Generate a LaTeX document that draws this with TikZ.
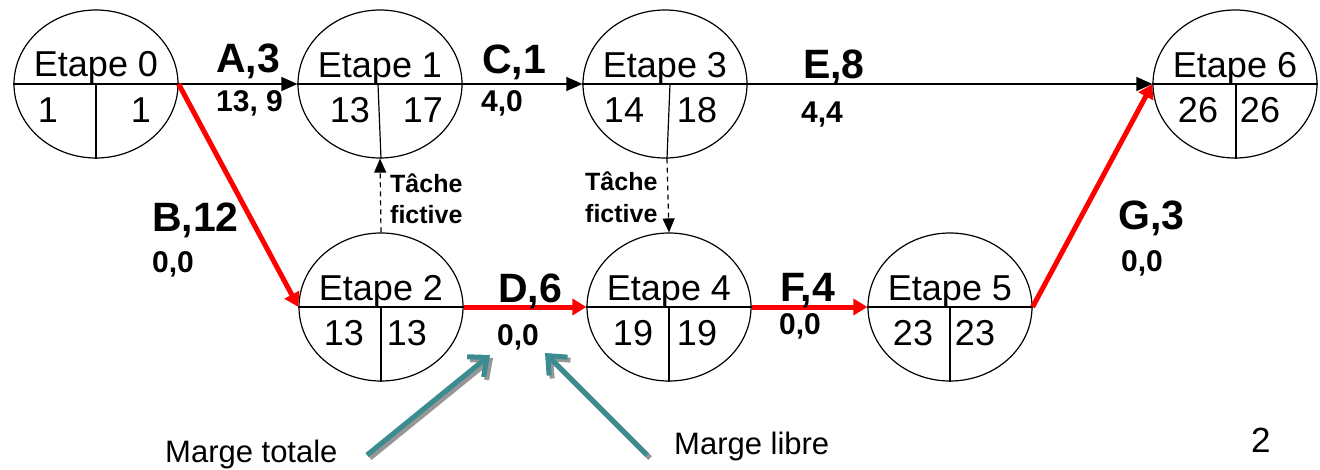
\documentclass[tikz,border=0pt]{standalone}
\usepackage{fontspec}
\setmainfont{Liberation Sans}
\usetikzlibrary{shapes.geometric,arrows.meta}
\definecolor{tealarr}{RGB}{58,140,145}
\definecolor{shadowgrey}{RGB}{150,150,150}
\begin{document}
\begin{tikzpicture}[x=1pt,y=-1pt,
  etape/.style={draw, line width=1.2pt, ellipse, minimum width=164pt, minimum height=148pt, inner sep=0pt},
  etext/.style={font=\fontsize{36}{40}\selectfont, anchor=base, inner sep=0pt},
  tlabel/.style={font=\bfseries\fontsize{41}{45}\selectfont, anchor=base west, inner sep=0pt},
  slabel/.style={font=\bfseries\fontsize{30}{33}\selectfont, anchor=base west, inner sep=0pt},
  flabel/.style={font=\bfseries\fontsize{25}{28}\selectfont, anchor=base west, inner sep=0pt},
  note/.style={font=\fontsize{31}{34}\selectfont, anchor=base west, inner sep=0pt},
  divider/.style={line width=1.2pt},
  blkarr/.style={line width=1.4pt, -{Triangle[length=16pt,width=14pt]}},
  redarr/.style={draw=red, line width=5pt, -{Triangle[length=14pt,width=16pt,fill=red]}},
  fictarr/.style={line width=1.2pt, dashed, dash pattern=on 5pt off 4pt, -{Triangle[length=14pt,width=12pt]}},
  tealarrow/.style={draw=tealarr, line width=5pt, -{Straight Barb[length=15pt,width=26pt]}},
  shadowarrow/.style={draw=shadowgrey, line width=5pt, -{Straight Barb[length=15pt,width=26pt]}}
]
\useasboundingbox (0,0) rectangle (1320,469);
% ellipses
\node[etape] (e0) at (96,84) {};
\node[etape] (e1) at (380,84) {};
\node[etape] (e3) at (665,84) {};
\node[etape] (e6) at (1235,84) {};
\node[etape] (e2) at (381,307) {};
\node[etape] (e4) at (669,307) {};
\node[etape] (e5) at (950,307) {};
% inner lines
\foreach \e in {e0,e1,e3,e6,e2,e4,e5}{
  \draw[divider] (\e.west) -- (\e.east);
}
\draw[divider] (e0.center) -- (e0.south);
\draw[divider] ([xshift=-2pt]e1.center) -- ([xshift=1pt]e1.south);
\draw[divider] ([xshift=5pt]e3.center) -- ([xshift=2pt]e3.south);
\draw[divider] ([xshift=1pt]e6.center) -- ([xshift=1pt]e6.south);
\draw[divider] (e2.center) -- (e2.south);
\draw[divider] (e4.center) -- (e4.south);
\draw[divider] (e5.center) -- (e5.south);
% texts in ellipses
\node[etext] (t0) at (96,76) {Etape 0};
\node[etext] (t0a) at (48,122) {1};
\node[etext] (t0b) at (141,122) {1};
\node[etext] (t1) at (380,77) {Etape 1};
\node[etext] (t1a) at (350,122) {13};
\node[etext] (t1b) at (423,122) {17};
\node[etext] (t3) at (665,77) {Etape 3};
\node[etext] (t3a) at (624,122) {14};
\node[etext] (t3b) at (697,122) {18};
\node[etext] (t6) at (1235,77) {Etape 6};
\node[etext] (t6a) at (1198,122) {26};
\node[etext] (t6b) at (1260,122) {26};
\node[etext] (t2) at (381,300) {Etape 2};
\node[etext] (t2a) at (344,345) {13};
\node[etext] (t2b) at (407,345) {13};
\node[etext] (t4) at (669,300) {Etape 4};
\node[etext] (t4a) at (633,345) {19};
\node[etext] (t4b) at (697,345) {19};
\node[etext] (t5) at (950,300) {Etape 5};
\node[etext] (t5a) at (913,345) {23};
\node[etext] (t5b) at (975,345) {23};
% connectors
\draw[blkarr] (e0.east) -- (e1.west);
\draw[blkarr] (e1.east) -- (e3.west);
\draw[blkarr] (e3.east) -- (e6.west);
\draw[redarr] (e0.east) -- (e2.west);
\draw[redarr] (e2.east) -- (e4.west);
\draw[redarr] (e4.east) -- (e5.west);
\draw[redarr] (e5.east) -- (e6.west);
\draw[fictarr] (e2.north) -- (e1.south);
\draw[fictarr] ([xshift=2pt]e3.south) -- (e4.north);
% task labels
\node[tlabel] (la) at (216,72) {A,3};
\node[slabel] (lam) at (216,111) {13, 9};
\node[tlabel] (lc) at (482,73) {C,1};
\node[slabel] (lcm) at (481,111) {4,0};
\node[tlabel] (le) at (803,78) {E,8};
\node[slabel] (lem) at (801,122) {4,4};
\node[tlabel] (lb) at (152,231) {B,12};
\node[slabel] (lbm) at (152,272) {0,0};
\node[tlabel] (ld) at (498,302) {D,6};
\node[slabel] (ldm) at (497,345) {0,0};
\node[tlabel] (lf) at (780,301) {F,4};
\node[slabel] (lfm) at (779,334) {0,0};
\node[tlabel] (lg) at (1118,229) {G,3};
\node[slabel] (lgm) at (1121,271) {0,0};
% fictive tasks
\node[flabel] (f1a) at (390,192) {Tâche};
\node[flabel] (f1b) at (390,223) {fictive};
\node[flabel] (f2a) at (585,190) {Tâche};
\node[flabel] (f2b) at (585,222) {fictive};
% margin arrows
\coordinate (mts) at (367,455);
\coordinate (mtt) at (490,355);
\coordinate (mls) at (647,455);
\coordinate (mlt) at (545,353);
\draw[shadowarrow] ([shift={(3,3)}]mts) -- ([shift={(3,3)}]mtt);
\draw[shadowarrow] ([shift={(3,3)}]mls) -- ([shift={(3,3)}]mlt);
\draw[tealarrow] (mts) -- (mtt);
\draw[tealarrow] (mls) -- (mlt);
\node[note] (mt) at (165,462) {Marge totale};
\node[note] (ml) at (674,454) {Marge libre};
\node[font=\fontsize{35}{38}\selectfont, anchor=base west, inner sep=0pt] (pg) at (1251,452) {2};
\end{tikzpicture}
\end{document}
